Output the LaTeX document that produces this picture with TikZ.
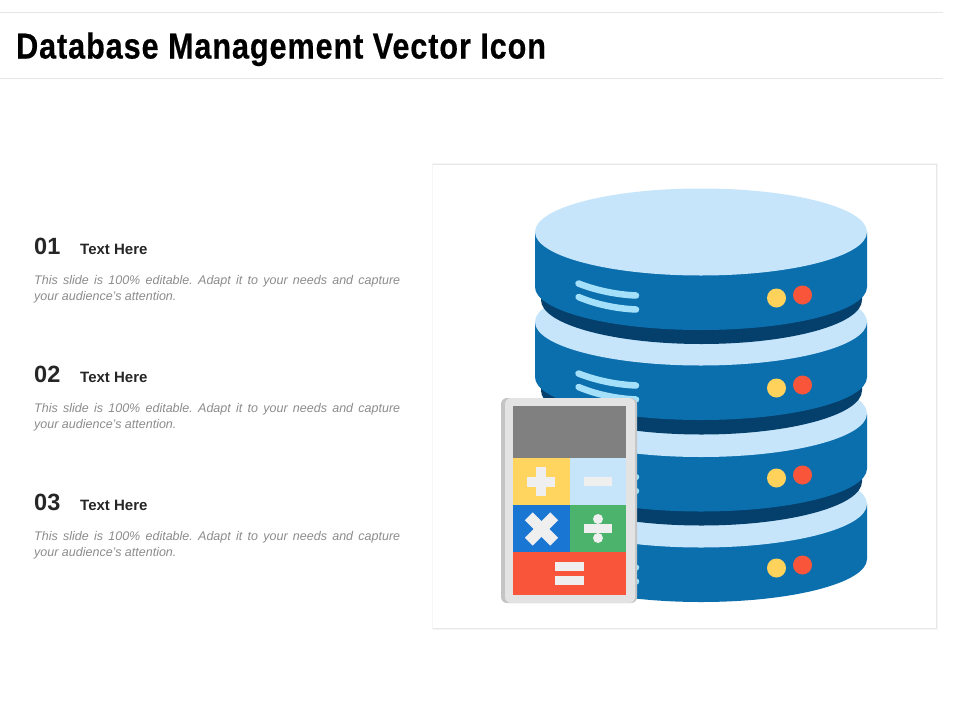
\documentclass[tikz,border=0pt]{standalone}
\usepackage{fontspec}
\setmainfont{Liberation Sans}
\frenchspacing
\definecolor{bodyblue}{HTML}{0B6FAE}
\definecolor{darkblue}{HTML}{053F6B}
\definecolor{lightblue}{HTML}{C6E5FA}
\definecolor{stripeblue}{HTML}{A5E0FA}
\definecolor{dotyellow}{HTML}{FFD25C}
\definecolor{dotred}{HTML}{F9553B}
\definecolor{keyblue}{HTML}{1976D2}
\definecolor{keygreen}{HTML}{4CB36D}
\definecolor{keyyellow}{HTML}{FFD45F}
\definecolor{symb}{HTML}{EFEFEF}
\definecolor{rulegrey}{HTML}{E6E6E6}
\definecolor{headtext}{HTML}{262626}
\definecolor{bodytext}{HTML}{8C8C8C}
\tikzset{
  numlabel/.style={anchor=base west,inner sep=0pt,font=\fontsize{23.5}{24}\selectfont\bfseries,text=headtext},
  headlabel/.style={anchor=base west,inner sep=0pt,font=\fontsize{15}{15}\selectfont\bfseries,text=headtext},
  desc/.style={anchor=north west,inner sep=0pt,text width=366pt,align=justify,font=\fontsize{12.5}{16}\selectfont\itshape,text=bodytext},
  stripe/.style={draw=stripeblue,line width=6.5pt,line cap=round},
  symbbar/.style={fill=symb}
}
% #1 body offset, #2 dot offset
\newcommand{\diskbody}[2]{%
  \begin{scope}[yshift=-#1pt]
  \fill[bodyblue] (535,232) -- (535,287) arc[start angle=180,end angle=0,x radius=166,y radius=43] -- (867,232) -- cycle;
  \fill[lightblue] (701,232) ellipse[x radius=166,y radius=43.5];
  \draw[stripe] (578.5,283.5) .. controls (595,290) and (615,294.5) .. (636,295.5);
  \draw[stripe] (578.5,297) .. controls (595,304) and (615,308.5) .. (636,309.5);
  \end{scope}
  \begin{scope}[yshift=-#2pt]
  \fill[dotyellow] (776.5,298) circle[radius=9.5];
  \fill[dotred] (802.5,295) circle[radius=9.5];
  \end{scope}}
\newcommand{\diskband}[1]{%
  \begin{scope}[yshift=-#1pt]
  \fill[darkblue] (541,290) -- (541,300) arc[start angle=180,end angle=0,x radius=160.5,y radius=44] -- (862,290) -- cycle;
  \end{scope}}
\begin{document}
\begin{tikzpicture}[x=1pt,y=-1pt]
\useasboundingbox (0,0) rectangle (960,720);
\fill[white] (0,0) rectangle (960,720);
% header
\draw[rulegrey,line width=1pt] (0,12.5) -- (943,12.5);
\draw[rulegrey,line width=1pt] (0,78) -- (943,78);
\node[anchor=base west,inner sep=0pt,font=\fontsize{36}{36}\selectfont\bfseries,text=black,xscale=.85] (title) at (16,58.5) {\addfontfeature{LetterSpace=3,FakeBold=0.5}Database Management Vector Icon};
% panel
\fill[black!4] (431.5,163) rectangle (938,630);
\fill[black!9] (432.5,163.5) rectangle (937,629);
\fill[white] (433,164.5) rectangle (936,627.5);
% disks
\diskbody{272}{270}
\diskband{181.5}
\diskbody{181.5}{180}
\diskband{90.5}
\diskbody{90}{90}
\diskband{0}
\diskbody{0}{0}
% calculator
\fill[black!23,rounded corners=6pt] (501,398) rectangle (637,603);
\fill[black!11,rounded corners=6pt] (505,398) rectangle (635,603);
\fill[black!50] (513,406) rectangle (626,458);
\fill[keyyellow] (513,458) rectangle (570,505);
\fill[lightblue] (570,458) rectangle (626,505);
\fill[keyblue] (513,505) rectangle (570,552);
\fill[keygreen] (570,505) rectangle (626,552);
\fill[dotred] (513,552) rectangle (626,595);
% plus
\fill[symbbar] (527,476.5) rectangle (555,487);
\fill[symbbar] (536,467) rectangle (546,496);
% minus
\fill[symbbar] (584,477) rectangle (612,486);
% times
\begin{scope}[shift={(541.5,529)},rotate=45]
\fill[symbbar] (-18,-5.5) rectangle (18,5.5);
\fill[symbbar] (-5.5,-18) rectangle (5.5,18);
\end{scope}
% divide
\fill[symbbar] (584,524) rectangle (612,533);
\fill[symbbar] (598,519) circle[radius=5];
\fill[symbbar] (598,538) circle[radius=5];
% equals
\fill[symbbar] (555,562) rectangle (584,571);
\fill[symbbar] (555,576) rectangle (584,585);
% text rows
\node[numlabel] (n1) at (34,254) {01};
\node[headlabel] (h1) at (80,254) {Text Here};
\node[desc] (d1) at (34,275) {This slide is 100\% editable. Adapt it to your needs and capture\linebreak your audience's attention.};
\node[numlabel] (n2) at (34,382) {02};
\node[headlabel] (h2) at (80,382) {Text Here};
\node[desc] (d2) at (34,403) {This slide is 100\% editable. Adapt it to your needs and capture\linebreak your audience's attention.};
\node[numlabel] (n3) at (34,510) {03};
\node[headlabel] (h3) at (80,510) {Text Here};
\node[desc] (d3) at (34,531) {This slide is 100\% editable. Adapt it to your needs and capture\linebreak your audience's attention.};
\end{tikzpicture}
\end{document}
